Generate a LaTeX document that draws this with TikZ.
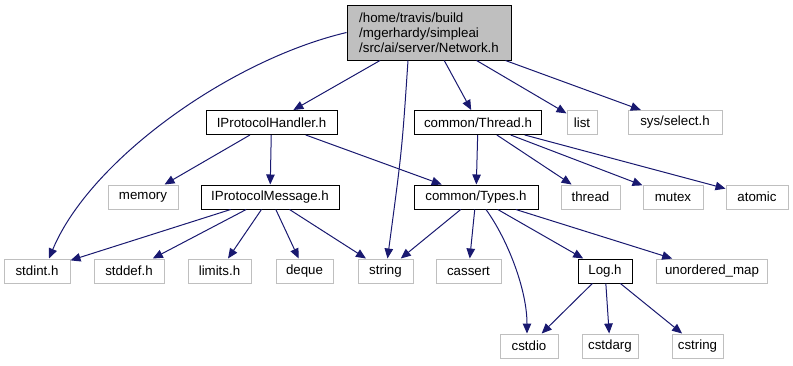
\documentclass[tikz,border=0pt]{standalone}
\usepackage{fontspec}
\setmainfont{Liberation Sans}
\usetikzlibrary{arrows.meta}
\definecolor{edgeblue}{HTML}{191970}
\definecolor{boxgray}{HTML}{BFBFBF}

\begin{document}
\begin{tikzpicture}[x=1pt,y=-1pt,
  font=\fontsize{13.3}{15}\selectfont,
  root/.style={draw=black,fill=boxgray,line width=1pt,align=left,minimum width=164pt,minimum height=55pt,inner sep=2pt},
  loc/.style={draw=black,line width=1pt,minimum height=24pt,inner sep=2pt},
  sys/.style={draw=boxgray,line width=1pt,minimum height=24pt,inner sep=2pt},
  ar/.style={-{Triangle[length=10pt,width=8.5pt]},draw=edgeblue,line width=1pt}]
\useasboundingbox (0,0) rectangle (793,365);

% top
\node[root] (net) at (429,32.5) {/home/travis/build\\/mgerhardy/simpleai\\/src/ai/server/Network.h};

% first row
\node[loc,minimum width=131pt] (hdl) at (271.5,122.5) {IProtocolHandler.h};
\node[loc,minimum width=127pt] (thr) at (478,122.5) {common/Thread.h};
\node[sys,minimum width=30pt] (list) at (582,122.5) {list};
\node[sys,minimum width=94pt] (sel) at (675,122.5) {sys/select.h};

% second row
\node[sys,minimum width=70pt] (mem) at (143,197) {memory};
\node[loc,minimum width=138pt] (msg) at (270,197) {IProtocolMessage.h};
\node[loc,minimum width=124pt] (typ) at (476,197) {common/Types.h};
\node[sys,minimum width=59pt] (thread) at (590.5,197) {thread};
\node[sys,minimum width=60pt] (mutex) at (673,197) {mutex};
\node[sys,minimum width=62pt] (atomic) at (757,197) {atomic};

% third row
\node[sys,minimum width=66pt] (stdint) at (37,271) {stdint.h};
\node[sys,minimum width=70pt] (stddef) at (129,271) {stddef.h};
\node[sys,minimum width=63pt] (limits) at (219.5,271) {limits.h};
\node[sys,minimum width=57pt] (deque) at (304.5,271) {deque};
\node[sys,minimum width=55pt] (string) at (385.5,271) {string};
\node[sys,minimum width=65pt] (cassert) at (468.5,271) {cassert};
\node[loc,minimum width=54pt] (log) at (605,271) {Log.h};
\node[sys,minimum width=111pt] (umap) at (712,271) {unordered\_map};

% bottom row
\node[sys,minimum width=58pt] (cstdio) at (529,346) {cstdio};
\node[sys,minimum width=56pt] (cstdarg) at (610,346) {cstdarg};
\node[sys,minimum width=51pt] (cstring) at (697.5,346) {cstring};

% Network.h
\draw[ar] (net) -- (hdl);
\draw[ar] (net) -- (thr);
\draw[ar] (net) -- (list);
\draw[ar] (net) -- (sel);
\draw[ar] (net.west) .. controls (230,60) and (90,160) .. ([xshift=12pt]stdint.north);
\draw[ar] ([xshift=-21pt]net.south) .. controls (402,150) .. ([xshift=2pt]string.north);

% IProtocolHandler.h
\draw[ar] (hdl) -- (mem);
\draw[ar] (hdl) -- (msg);
\draw[ar] (hdl) -- (typ);

% common/Thread.h
\draw[ar] (thr) -- (typ);
\draw[ar] (thr) -- (thread);
\draw[ar] (thr) -- (mutex);
\draw[ar] (thr) -- (atomic);

% IProtocolMessage.h
\draw[ar] (msg) -- (stdint);
\draw[ar] (msg) -- (stddef);
\draw[ar] (msg) -- (limits);
\draw[ar] (msg) -- (deque);
\draw[ar] (msg) -- (string);

% common/Types.h
\draw[ar] (typ) -- (string);
\draw[ar] (typ) -- (cassert);
\draw[ar] ([xshift=10pt]typ.south) .. controls (508,240) and (527,290) .. ([xshift=-2pt]cstdio.north);
\draw[ar] (typ) -- (log);
\draw[ar] (typ) -- (umap);

% Log.h
\draw[ar] (log) -- (cstdio);
\draw[ar] (log) -- (cstdarg);
\draw[ar] (log) -- (cstring);
\end{tikzpicture}
\end{document}
